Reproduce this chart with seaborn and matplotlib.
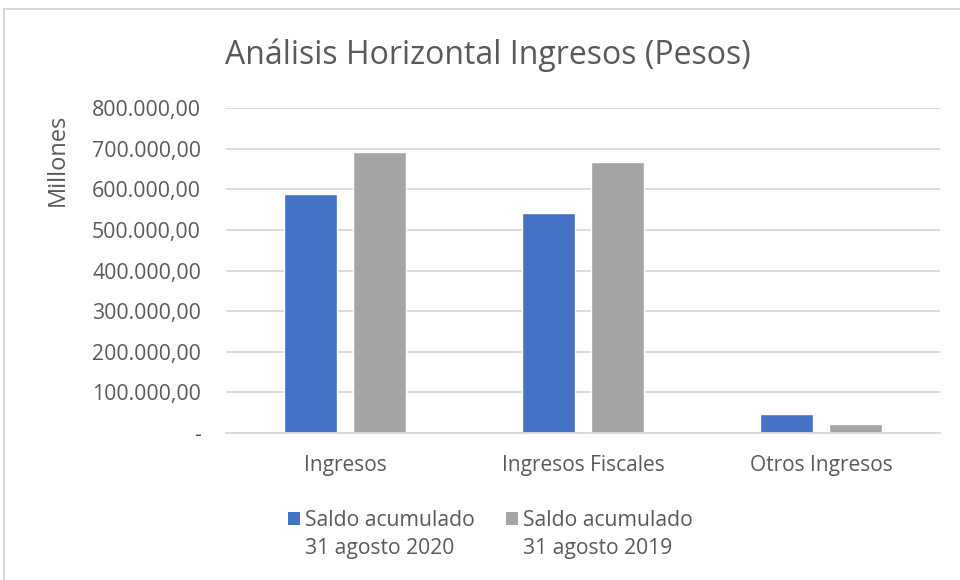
import matplotlib
matplotlib.use("Agg")
import matplotlib.pyplot as plt
import matplotlib.ticker as mticker
from matplotlib.patches import Rectangle, Patch
from matplotlib.legend_handler import HandlerPatch
import seaborn as sns
import pandas as pd

categories = ["Ingresos", "Ingresos Fiscales", "Otros Ingresos"]
series_names = ["Saldo acumulado\n31 agosto 2020", "Saldo acumulado\n31 agosto 2019"]
values_2020 = [588000, 541000, 46000]
values_2019 = [692000, 667000, 21000]
yticks = [0, 100000, 200000, 300000, 400000, 500000, 600000, 700000, 800000]
colors = ["#4472C4", "#A5A5A5"]

df = pd.DataFrame({
    "cat": categories * 2,
    "serie": [series_names[0]] * 3 + [series_names[1]] * 3,
    "valor": values_2020 + values_2019,
})

sns.set_theme(style="white")
plt.rcParams["font.family"] = ["Open Sans", "DejaVu Sans"]
txt = "#595959"

fig = plt.figure(figsize=(9.6, 5.8), dpi=100)
ax = fig.add_axes([226 / 960, 1 - 433 / 580, (940 - 226) / 960, (433 - 108) / 580])

sns.barplot(data=df, x="cat", y="valor", hue="serie", order=categories,
            hue_order=series_names, palette=colors,
            width=0.58, gap=0.24, ax=ax, legend=False, saturation=1)

ax.set_xlim(-0.5, 2.5)
ax.set_ylim(0, 800000)
ax.set_yticks(yticks)

def fmt(v, pos):
    if v == 0:
        return "-"
    s = f"{int(v):,}".replace(",", ".")
    return s + ",00"

ax.yaxis.set_major_formatter(mticker.FuncFormatter(fmt))
ax.grid(axis="y", color="#d9d9d9", linewidth=1.3)
ax.set_axisbelow(True)
for s in ["top", "right", "left"]:
    ax.spines[s].set_visible(False)
ax.spines["bottom"].set_color("#d9d9d9")
ax.spines["bottom"].set_linewidth(1.3)
ax.tick_params(axis="y", length=0, labelsize=15.3, colors=txt, pad=18)
ax.tick_params(axis="x", length=0, labelsize=15, colors=txt, pad=16)
ax.set_xlabel("")
ax.set_ylabel("Millones", fontsize=17, color=txt)
ax.yaxis.set_label_coords(-0.219, 0.84)

fig.text(488 / 960, 1 - 55 / 580, "Análisis Horizontal Ingresos (Pesos)",
         ha="center", va="center", fontsize=23, color=txt)


def top_square(legend, orig_handle, xdescent, ydescent, width, height, fontsize):
    return Rectangle((-xdescent, -ydescent + fontsize * 0.8), width, height)


handles = [Patch(facecolor=c, edgecolor="none") for c in colors]
leg = fig.legend(handles, series_names, loc="upper left",
                 bbox_to_anchor=(288 / 960, 1 - 510 / 580), ncol=2,
                 frameon=False, fontsize=15.2, handlelength=0.55, handleheight=0.55,
                 handletextpad=0.25, columnspacing=1.5, labelcolor=txt,
                 borderaxespad=0, borderpad=0,
                 handler_map={Patch: HandlerPatch(patch_func=top_square)})
for t in leg.get_texts():
    t.set_linespacing(1.45)

fig.patches.append(Rectangle((4 / 960, -0.5), 2, 1.5 - 9 / 580,
                             transform=fig.transFigure, fill=False,
                             edgecolor="#d9d9d9", linewidth=1.5))

fig.savefig("out.png", dpi=100)
